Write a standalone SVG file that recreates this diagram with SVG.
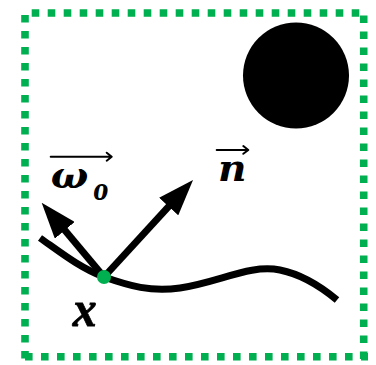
<svg xmlns="http://www.w3.org/2000/svg" width="376" height="365" viewBox="0 0 376 365">
<style>
.border{stroke:#00B050;stroke-width:7.6;stroke-dasharray:7.6 8.4;fill:none}
.curve{stroke:#000;stroke-width:7;fill:none;stroke-linecap:butt}
.vec{stroke:#000;stroke-width:7;fill:none}
.acc{stroke:#000;stroke-width:2;fill:none;stroke-linecap:round;stroke-linejoin:round}
.lbl{font-family:"DejaVu Serif","Liberation Serif",serif;font-style:italic;font-weight:bold;fill:#000}
.lbl2{font-family:"Liberation Serif","DejaVu Serif",serif;font-style:italic;font-weight:bold;fill:#000;stroke:#000;stroke-width:0.8}
</style>
<defs>
<marker id="head" markerUnits="userSpaceOnUse" markerWidth="36" markerHeight="26" viewBox="0 0 36 26" refX="12" refY="13" orient="auto">
<path d="M0,0 L36,13 L0,26 z" fill="#000"/>
</marker>
</defs>
<g id="frame">
<path class="border" d="M31.7,13 H364"/>
<path class="border" d="M363.7,15.5 V360"/>
<path class="border" d="M25,356.7 H368"/>
<path class="border" d="M25,15 V360"/>
</g>
<g id="light">
<circle cx="296" cy="75.5" r="53" fill="#000"/>
</g>
<g id="surface">
<path class="curve" d="M40,238 C60,252 80,268 104,277 C130,286 150,292 180,288 C220,282 250,264 280,270 C305,275 325,290 337,300"/>
</g>
<g id="connectors">
<line class="vec" x1="104" y1="277" x2="176.8" y2="197.7" marker-end="url(#head)"/>
<line class="vec" x1="104" y1="277" x2="57.1" y2="221.1" marker-end="url(#head)"/>
</g>
<g id="point">
<circle cx="104" cy="277" r="7" fill="#00B050"/>
</g>
<g id="label-n">
<path class="acc" d="M216.7,150 H248.3 M243.3,146 L248.3,150 L243.3,153.8"/>
<text class="lbl" x="218" y="181" font-size="37" textLength="28.5" lengthAdjust="spacingAndGlyphs">n</text>
</g>
<g id="label-omega">
<path class="acc" d="M50.7,156.7 H111.7 M106.7,152.7 L111.7,156.7 L106.7,160.7"/>
<text class="lbl" x="50.7" y="188.3" font-size="35" textLength="37.6" lengthAdjust="spacingAndGlyphs">ω</text>
<text class="lbl" x="93.3" y="200" font-size="29" textLength="15" lengthAdjust="spacingAndGlyphs">o</text>
</g>
<g id="label-x">
<text class="lbl2" x="72.7" y="326" font-size="50" textLength="24" lengthAdjust="spacingAndGlyphs">x</text>
</g>
</svg>
